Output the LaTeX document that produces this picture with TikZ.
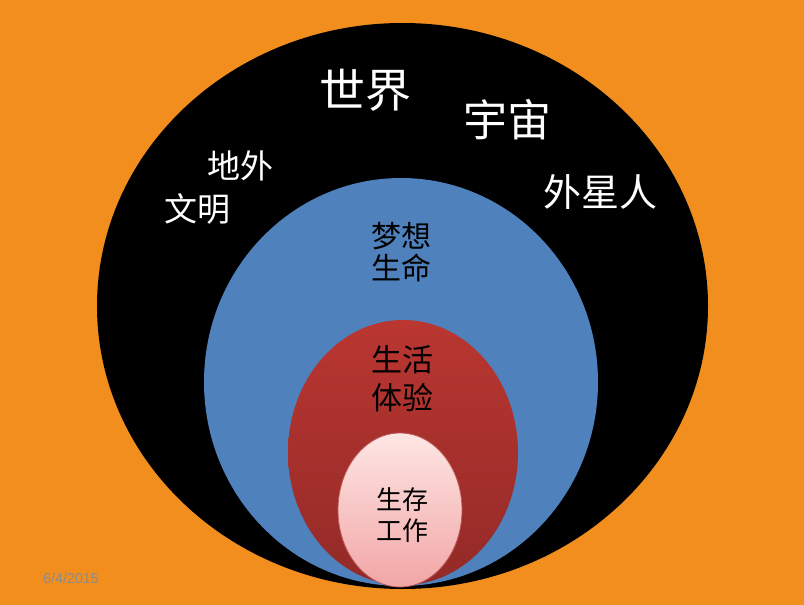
\documentclass[tikz,border=0pt]{standalone}
\usepackage{fontspec}
\setmainfont{Liberation Sans}
\newfontfamily\cjk{Noto Sans CJK SC}
\definecolor{bgorange}{HTML}{F28E1E}
\definecolor{blueball}{HTML}{4F81BD}
\definecolor{redtop}{HTML}{BA3631}
\definecolor{redbot}{HTML}{932A27}
\definecolor{pinktop}{HTML}{FDE6E4}
\definecolor{pinkbot}{HTML}{F2A6A6}
\definecolor{dategray}{HTML}{8C8C8C}
\tikzset{
  whitetxt/.style={text=white, font=\cjk, align=center, inner sep=0pt},
  blacktxt/.style={text=black, font=\cjk, align=center, inner sep=0pt},
}
\begin{document}
\begin{tikzpicture}[x=1pt,y=-1pt]
\fill[bgorange] (0,0) rectangle (804,605);
\useasboundingbox (0,0) rectangle (804,605);
% outer black
\fill[black] (402.5,306) ellipse [x radius=305.5, y radius=283];
% blue
\fill[blueball] (401,382) ellipse [x radius=197, y radius=204];
% red
\shade[top color=redtop, bottom color=redbot] (403,452.5) ellipse [x radius=115, y radius=132.5];
% pink
\shade[top color=pinktop, bottom color=pinkbot, draw=redbot!60!pinkbot, line width=0.8pt] (400,510) ellipse [x radius=62, y radius=77];
% texts
\node[whitetxt, font=\cjk\fontsize{46}{50}\selectfont] (shijie) at (365,90) {世界};
\node[whitetxt, font=\cjk\fontsize{44}{48}\selectfont] (yuzhou) at (507,120) {宇宙};
\node[whitetxt, font=\cjk\fontsize{33}{36}\selectfont] (diwai) at (240,166) {地外};
\node[whitetxt, font=\cjk\fontsize{33}{36}\selectfont] (wenming) at (197,209) {文明};
\node[whitetxt, font=\cjk\fontsize{38}{40}\selectfont] (waixingren) at (600,192) {外星人};
\node[blacktxt, font=\cjk\fontsize{30}{32}\selectfont] (mengxiang) at (401,252) {梦想\\生命};
\node[blacktxt, font=\cjk\fontsize{31}{38}\selectfont] (shenghuo) at (402,379) {生活\\体验};
\node[blacktxt, font=\cjk\fontsize{26}{31}\selectfont] (shengcun) at (402,515) {生存\\工作};
\node[text=dategray, font=\fontsize{14.3}{16}\selectfont, inner sep=0pt, anchor=west] (date) at (43,578) {6/4/2015};
\end{tikzpicture}
\end{document}
